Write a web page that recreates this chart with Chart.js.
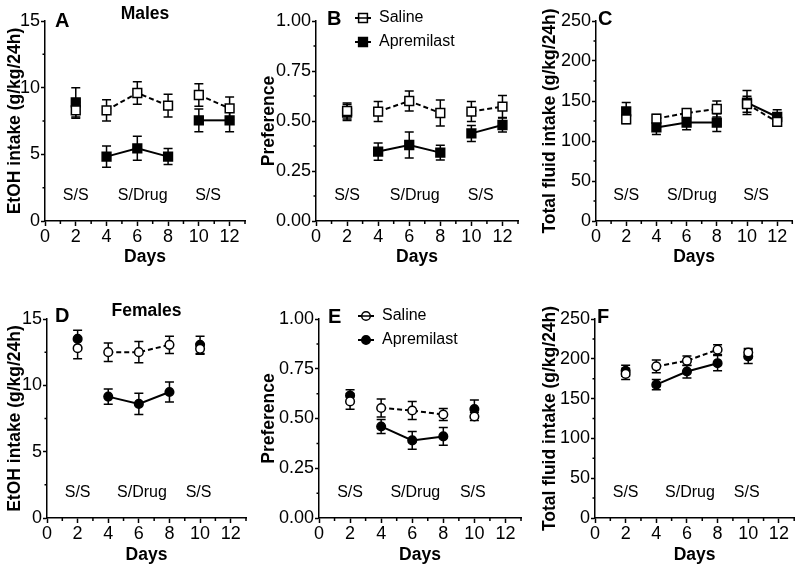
<!DOCTYPE html>
<html>
<head>
<meta charset="utf-8">
<script src="https://cdn.jsdelivr.net/npm/chart.js@4/dist/chart.umd.min.js"></script>
<style>
  html, body { margin:0; padding:0; background:#fff; }
  #wrap { position:relative; width:800px; height:568px; }
  #wrap canvas { position:absolute; left:0; top:0; }
</style>
</head>
<body>
<div id="wrap">
  <canvas id="cA" width="800" height="568"></canvas>
  <canvas id="cB" width="800" height="568"></canvas>
  <canvas id="cC" width="800" height="568"></canvas>
  <canvas id="cD" width="800" height="568"></canvas>
  <canvas id="cE" width="800" height="568"></canvas>
  <canvas id="cF" width="800" height="568"></canvas>
</div>
<script>
// ---- data ----
const DAYS_M = [2, 4, 6, 8, 10, 12];
const DAYS_F = [2, 4, 6, 8, 10];
const BREAK_AFTER = [2, 8];            // line interrupted after these days (phase change)
const PHASES = ['S/S', 'S/Drug', 'S/S'];
const PHASE_X_M = [2, 6.35, 10.6];
const PHASE_X_F = [2, 6.2, 9.9];
const SERIES = ['Saline', 'Apremilast'];

// males
const maleEtohSaline    = [8.3, 8.3, 9.6, 8.65, 9.45, 8.45];
const maleEtohSalineSem = [0.6, 0.8, 0.85, 0.85, 0.85, 0.85];
const maleEtohAprem     = [8.9, 4.83, 5.45, 4.83, 7.55, 7.55];
const maleEtohApremSem  = [1.1, 0.8, 0.9, 0.6, 0.85, 0.85];

const malePrefSaline    = [0.55, 0.547, 0.60, 0.54, 0.547, 0.572];
const malePrefSalineSem = [0.04, 0.05, 0.05, 0.065, 0.05, 0.055];
const malePrefAprem     = [0.542, 0.347, 0.38, 0.342, 0.438, 0.48];
const malePrefApremSem  = [0.04, 0.043, 0.065, 0.037, 0.04, 0.035];

const maleFluidSaline    = [127, 128, 135, 140, 146, 124];
const maleFluidSalineSem = [5, 5, 4, 10, 10, 4];
const maleFluidAprem     = [137, 117, 123, 123, 148, 130];
const maleFluidApremSem  = [11, 9, 9, 11, 15, 9];

// females
const femEtohSaline    = [12.8, 12.5, 12.5, 13.05, 12.75];
const femEtohSalineSem = [0.8, 0.7, 0.8, 0.65, 0.4];
const femEtohAprem     = [13.5, 9.15, 8.6, 9.5, 13.05];
const femEtohApremSem  = [0.65, 0.57, 0.8, 0.75, 0.65];

const femPrefSaline    = [0.586, 0.553, 0.54, 0.52, 0.51];
const femPrefSalineSem = [0.04, 0.045, 0.045, 0.03, 0.02];
const femPrefAprem     = [0.615, 0.46, 0.39, 0.41, 0.548];
const femPrefApremSem  = [0.03, 0.035, 0.045, 0.045, 0.045];

const femFluidSaline    = [181, 190.5, 197.5, 211.5, 208];
const femFluidSalineSem = [7, 8, 6, 6, 5];
const femFluidAprem     = [185, 167.5, 184, 194.5, 203];
const femFluidApremSem  = [7, 6.5, 8, 9.5, 9];

// ---- style ----
const FONT = '"Liberation Sans", Arial, Helvetica, sans-serif';
const TITLE_SIZE = 17.5;
const TICK_SIZE = 18;
const CAP = 4.5;

Chart.defaults.font.family = FONT;
Chart.defaults.color = '#000';

const PANELS = [
  { id:'cA', letter:'A', heading:'Males', yTitle:'EtOH intake (g/kg/24h)', yMax:15, yStep:2.5, yMajor:5, dec:0,
    days:DAYS_M, phaseX:PHASE_X_M, marker:'rect', legend:false,
    s:maleEtohSaline, sSem:maleEtohSalineSem, a:maleEtohAprem, aSem:maleEtohApremSem,
    box:{ l:45, t:21, r:245, b:221 }, titleX:15, daysY:257, letterDx:10, letterDy:0, headDy:-7 },
  { id:'cB', letter:'B', yTitle:'Preference', yMax:1, yStep:0.125, yMajor:0.25, dec:2,
    days:DAYS_M, phaseX:PHASE_X_M, marker:'rect', legend:true,
    s:malePrefSaline, sSem:malePrefSalineSem, a:malePrefAprem, aSem:malePrefApremSem,
    box:{ l:316, t:21, r:518, b:221 }, titleX:269, daysY:257, letterDx:11, letterDy:-2 },
  { id:'cC', letter:'C', yTitle:'Total fluid intake (g/kg/24h)', yMax:250, yStep:25, yMajor:50, dec:0,
    days:DAYS_M, phaseX:PHASE_X_M, marker:'rect', legend:false,
    s:maleFluidSaline, sSem:maleFluidSalineSem, a:maleFluidAprem, aSem:maleFluidApremSem,
    box:{ l:596, t:21, r:797, b:221 }, titleX:550, daysY:257, letterDx:2, letterDy:-1.5 },
  { id:'cD', letter:'D', heading:'Females', yTitle:'EtOH intake (g/kg/24h)', yMax:15, yStep:2.5, yMajor:5, dec:0,
    days:DAYS_F, phaseX:PHASE_X_F, marker:'circle', legend:false,
    s:femEtohSaline, sSem:femEtohSalineSem, a:femEtohAprem, aSem:femEtohApremSem,
    box:{ l:47, t:319, r:246, b:518 }, titleX:15, daysY:555, letterDx:8, letterDy:-3, headDy:-8 },
  { id:'cE', letter:'E', yTitle:'Preference', yMax:1, yStep:0.125, yMajor:0.25, dec:2,
    days:DAYS_F, phaseX:PHASE_X_F, marker:'circle', legend:true,
    s:femPrefSaline, sSem:femPrefSalineSem, a:femPrefAprem, aSem:femPrefApremSem,
    box:{ l:319, t:319, r:521, b:518 }, titleX:269, daysY:555, letterDx:9, letterDy:-1.5 },
  { id:'cF', letter:'F', yTitle:'Total fluid intake (g/kg/24h)', yMax:250, yStep:25, yMajor:50, dec:0,
    days:DAYS_F, phaseX:PHASE_X_F, marker:'circle', legend:false,
    s:femFluidSaline, sSem:femFluidSalineSem, a:femFluidAprem, aSem:femFluidApremSem,
    box:{ l:595, t:319, r:797, b:518 }, titleX:550, daysY:555, letterDx:2, letterDy:-1.5 },
];

function zeroPad(s){ s.paddingLeft = 0; s.paddingRight = 0; s.paddingTop = 0; s.paddingBottom = 0; }

function drawMarker(ctx, style, x, y, filled){
  ctx.save();
  ctx.lineWidth = 1.5;
  ctx.strokeStyle = '#000';
  ctx.fillStyle = filled ? '#000' : '#fff';
  ctx.beginPath();
  if (style === 'rect') ctx.rect(x - 4.4, y - 4.4, 8.8, 8.8);
  else ctx.arc(x, y, 4.3, 0, Math.PI * 2);
  ctx.fill();
  ctx.stroke();
  ctx.restore();
}

function isMajor(v, step){ const q = v / step; return Math.abs(q - Math.round(q)) < 1e-6; }

function makePanel(p){
  const lh = TITLE_SIZE * 1.2;
  const padLeft = p.titleX - lh / 2;
  const yWidth = p.box.l - padLeft;
  const xHeight = p.daysY + lh / 2 - p.box.b;
  const breakSeg = c => BREAK_AFTER.includes(c.p0.parsed.x) ? 'rgba(0,0,0,0)' : '#000';
  const radius = p.marker === 'rect' ? 6.2 : 4.3;

  const ds = (label, vals, dashed, filled) => ({
    label,
    data: p.days.map((d, i) => ({ x:d, y:vals[i] })),
    borderColor:'#000', borderWidth:2, borderDash: dashed ? [5, 3] : [],
    tension:0,
    pointStyle:p.marker, pointRadius:radius, pointBorderWidth:1.5,
    pointBorderColor:'#000', pointBackgroundColor: filled ? '#000' : '#fff',
    segment:{ borderColor: breakSeg },
    clip:false,
  });

  const decor = {
    id:'decor' + p.id,
    beforeDatasetsDraw(chart){
      const { ctx, scales:{ x, y } } = chart;
      ctx.save();
      ctx.strokeStyle = '#000';
      ctx.lineWidth = 1.5;
      [[p.s, p.sSem], [p.a, p.aSem]].forEach(([vals, sems]) => {
        vals.forEach((v, i) => {
          const px = x.getPixelForValue(p.days[i]);
          const y1 = y.getPixelForValue(v + sems[i]);
          const y2 = y.getPixelForValue(v - sems[i]);
          ctx.beginPath();
          ctx.moveTo(px, y1); ctx.lineTo(px, y2);
          ctx.moveTo(px - CAP, y1); ctx.lineTo(px + CAP, y1);
          ctx.moveTo(px - CAP, y2); ctx.lineTo(px + CAP, y2);
          ctx.stroke();
        });
      });
      ctx.restore();
    },
    afterDraw(chart){
      const { ctx, chartArea:a, scales:{ x, y } } = chart;
      ctx.save();
      // minor ticks
      ctx.strokeStyle = '#000';
      ctx.lineWidth = 1.5;
      ctx.beginPath();
      x.ticks.forEach(t => {
        if (t.label !== '') return;
        const px = x.getPixelForValue(t.value);
        ctx.moveTo(px, a.bottom); ctx.lineTo(px, a.bottom + 3);
      });
      y.ticks.forEach(t => {
        if (t.label !== '') return;
        const py = y.getPixelForValue(t.value);
        ctx.moveTo(a.left, py); ctx.lineTo(a.left - 2.5, py);
      });
      ctx.stroke();

      ctx.fillStyle = '#000';
      ctx.textBaseline = 'middle';
      // panel letter
      ctx.textAlign = 'left';
      ctx.font = `bold 20px ${FONT}`;
      ctx.fillText(p.letter, a.left + p.letterDx, a.top + p.letterDy);
      // heading
      if (p.heading){
        ctx.textAlign = 'center';
        ctx.font = `bold ${TITLE_SIZE}px ${FONT}`;
        ctx.fillText(p.heading, (a.left + a.right) / 2, a.top + p.headDy);
      }
      // phase labels
      ctx.textAlign = 'center';
      ctx.font = `16px ${FONT}`;
      PHASES.forEach((t, i) => ctx.fillText(t, x.getPixelForValue(p.phaseX[i]), a.bottom - 25));
      // legend
      if (p.legend){
        ctx.font = `16px ${FONT}`;
        ctx.textAlign = 'left';
        SERIES.forEach((name, i) => {
          const mx = a.left + 47, my = a.top - 3 + i * 24;
          ctx.save();
          ctx.lineWidth = 2;
          ctx.beginPath();
          ctx.moveTo(mx - 8, my); ctx.lineTo(mx + 8, my);
          ctx.stroke();
          ctx.restore();
          drawMarker(ctx, p.marker, mx, my, i === 1);
          if (i === 0){
            ctx.beginPath(); ctx.lineWidth = 1.5;
            ctx.moveTo(mx - 4, my); ctx.lineTo(mx + 4, my); ctx.stroke();
          }
          ctx.fillText(name, a.left + 63, my);
        });
      }
      ctx.restore();
    }
  };

  new Chart(document.getElementById(p.id), {
    type:'line',
    data:{ datasets:[ ds(SERIES[0], p.s, true, false), ds(SERIES[1], p.a, false, true) ] },
    options:{
      responsive:false,
      animation:false,
      layout:{ padding:{ left:padLeft, top:p.box.t, right:800 - p.box.r, bottom:568 - p.box.b - xHeight } },
      plugins:{ legend:{ display:false }, tooltip:{ enabled:false } },
      scales:{
        x:{
          type:'linear', min:0, max:13,
          afterFit: s => { s.height = xHeight; zeroPad(s); },
          ticks:{ stepSize:1, autoSkip:false, maxRotation:0, padding:0, color:'#000',
                  font:{ size:TICK_SIZE }, callback: v => (v % 2 === 0 ? String(v) : '') },
          grid:{ drawOnChartArea:false, drawTicks:true, tickLength:5, tickWidth:1.5,
                 tickColor: c => (c.tick && c.tick.value % 2 === 0) ? '#000' : 'rgba(0,0,0,0)' },
          border:{ display:true, color:'#000', width:1.5 },
          title:{ display:true, text:'Days', color:'#000', padding:0,
                  font:{ size:TITLE_SIZE, weight:'bold' } },
        },
        y:{
          type:'linear', min:0, max:p.yMax,
          afterFit: s => { s.width = yWidth; zeroPad(s); },
          ticks:{ stepSize:p.yStep, autoSkip:false, padding:1, color:'#000',
                  font:{ size:TICK_SIZE }, callback: v => (isMajor(v, p.yMajor) ? v.toFixed(p.dec) : '') },
          grid:{ drawOnChartArea:false, drawTicks:true, tickLength:4, tickWidth:1.5,
                 tickColor: c => (c.tick && isMajor(c.tick.value, p.yMajor)) ? '#000' : 'rgba(0,0,0,0)' },
          border:{ display:true, color:'#000', width:1.5 },
          title:{ display:true, text:p.yTitle, color:'#000', padding:0,
                  font:{ size:TITLE_SIZE, weight:'bold' } },
        }
      }
    },
    plugins:[decor]
  });
}

PANELS.forEach(makePanel);
</script>
</body>
</html>
